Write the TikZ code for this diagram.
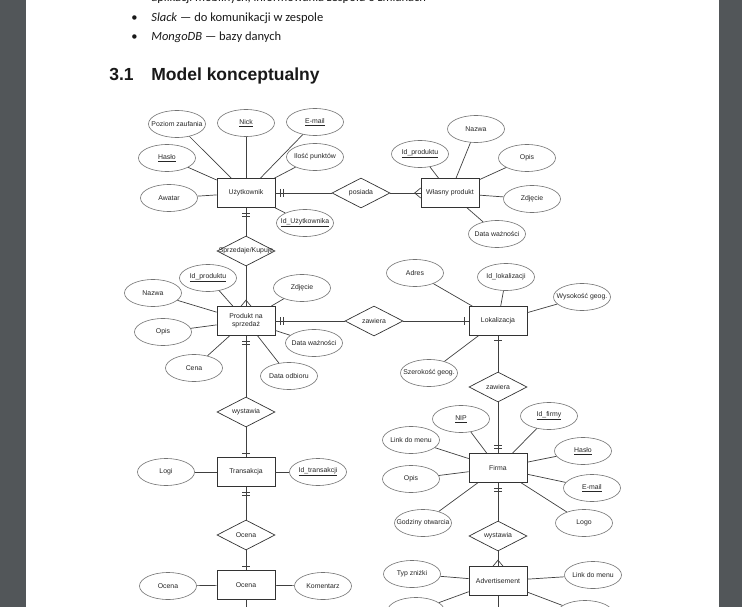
\documentclass[tikz,border=0pt]{standalone}
\usepackage{fontspec}
\setmainfont{Liberation Sans}
\newfontfamily\bodyfont{Carlito}
\usetikzlibrary{shapes.geometric}
\usetikzlibrary{calc}
\definecolor{viewer}{HTML}{525659}

\begin{document}
\begin{tikzpicture}[x=1pt,y=-1pt,line width=0.7pt,
	every node/.style={font=\fontsize{6.9}{8}\selectfont,text=black!85},
	entity/.style={rectangle,draw=black!80,minimum width=58pt,minimum height=29pt,inner sep=0pt,align=center},
	attr/.style={ellipse,draw=black!55,line width=0.6pt,minimum width=57pt,minimum height=27pt,inner xsep=-9pt,inner ysep=0pt},
	rel/.style={diamond,draw=black!80,minimum width=58pt,minimum height=30pt,inner sep=0pt,aspect=2},
	link/.style={draw=black!75},
	body/.style={anchor=base west,inner sep=0pt,text=black!90,font=\bodyfont\fontsize{12.5}{15}\selectfont}]

	\useasboundingbox (0,0) rectangle (742,607);
	\fill[viewer] (0,0) rectangle (742,607);
	\fill[white] (26,0) rectangle (719,607);

	% text above the diagram
	\node[body] (l1) at (151,1.5) {aplikacji mobilnych, informowania zespołu o zmianach};
	\node[body] (d2) at (131,21.5) {•};
	\node[body] (l2) at (151,21.5) {\textit{Slack} — do komunikacji w zespole};
	\node[body] (d3) at (131,41) {•};
	\node[body] (l3) at (151,41) {\textit{MongoDB} — bazy danych};
	\node[body,font=\fontsize{17.5}{20}\selectfont\bfseries] (nr) at (109,81) {3.1};
	\node[body,font=\fontsize{17.5}{20}\selectfont\bfseries] (tytul) at (151,81) {Model konceptualny};

	% Uzytkownik
	\node[entity] (uzyt) at (246,193) {Użytkownik};
	\node[attr] (uzPoz) at (177,124) {Poziom zaufania};
	\node[attr] (uzNick) at (246,123) {\underline{Nick}};
	\node[attr] (uzMail) at (315,122) {\underline{E-mail}};
	\node[attr] (uzHaslo) at (167,158) {\underline{Hasło}};
	\node[attr] (uzPkt) at (315,157) {Ilość punktów};
	\node[attr] (uzAwatar) at (169,198) {Awatar};
	\node[attr] (uzId) at (305,223) {\underline{Id\_Użytkownika}};
	\foreach \a in {uzPoz,uzNick,uzMail,uzHaslo,uzPkt,uzAwatar,uzId}
		\draw[link] (uzyt) -- (\a);

	% Wlasny produkt
	\node[rel] (posiada) at (361,193) {posiada};
	\node[entity] (wlasny) at (450,193) {Własny produkt};
	\node[attr] (wpId) at (420,154) {\underline{Id\_produktu}};
	\node[attr] (wpNazwa) at (476,129) {Nazwa};
	\node[attr] (wpOpis) at (527,158) {Opis};
	\node[attr] (wpZdj) at (532,199) {Zdjęcie};
	\node[attr] (wpData) at (497,234) {Data ważności};
	\foreach \a in {wpId,wpNazwa,wpOpis,wpZdj,wpData}
		\draw[link] (wlasny) -- (\a);
	\draw[link] (uzyt) -- (posiada);
	\draw[link] (posiada) -- (wlasny);

	% Produkt na sprzedaz
	\node[rel] (sprzed) at (246,251) {\makebox[0pt]{Sprzedaje/Kupuje}};
	\node[entity] (prod) at (246,321) {Produkt na\\sprzedaż};
	\node[attr] (pId) at (208,278) {\underline{Id\_produktu}};
	\node[attr] (pZdj) at (302,288) {Zdjęcie};
	\node[attr] (pNazwa) at (153,293) {Nazwa};
	\node[attr] (pOpis) at (163,332) {Opis};
	\node[attr] (pData) at (314,343) {Data ważności};
	\node[attr] (pCena) at (194,368) {Cena};
	\node[attr] (pOdb) at (289,376) {Data odbioru};
	\foreach \a in {pId,pZdj,pNazwa,pOpis,pData,pCena,pOdb}
		\draw[link] (prod) -- (\a);
	\draw[link] (uzyt) -- (sprzed);
	\draw[link] (sprzed) -- (prod);

	% Lokalizacja
	\node[rel] (zawL) at (374,321) {zawiera};
	\node[entity] (lok) at (498,321) {Lokalizacja};
	\node[attr] (lAdres) at (415,273) {Adres};
	\node[attr] (lId) at (506,277) {Id\_lokalizacji};
	\node[attr] (lWys) at (582,297) {Wysokość geog.};
	\node[attr] (lSzer) at (429,373) {Szerokość geog.};
	\foreach \a in {lAdres,lId,lWys,lSzer}
		\draw[link] (lok) -- (\a);
	\draw[link] (prod) -- (zawL);
	\draw[link] (zawL) -- (lok);

	% Firma
	\node[rel] (zawV) at (498,387) {zawiera};
	\node[entity] (firma) at (498,468) {Firma};
	\node[attr] (fNip) at (461,419) {\underline{NIP}};
	\node[attr] (fId) at (549,416) {\underline{Id\_firmy}};
	\node[attr] (fLink) at (411,440) {Link do menu};
	\node[attr] (fHaslo) at (583,451) {\underline{Hasło}};
	\node[attr] (fOpis) at (411,479) {Opis};
	\node[attr] (fMail) at (592,488) {\underline{E-mail}};
	\node[attr] (fGodz) at (423,523) {Godziny otwarcia};
	\node[attr] (fLogo) at (584,523) {Logo};
	\foreach \a in {fNip,fId,fLink,fHaslo,fOpis,fMail,fGodz,fLogo}
		\draw[link] (firma) -- (\a);
	\draw[link] (lok) -- (zawV);
	\draw[link] (zawV) -- (firma);

	% Advertisement
	\node[rel] (wystF) at (498,536) {wystawia};
	\node[entity] (adv) at (498,581) {Advertisement};
	\node[attr] (aTyp) at (412,574) {Typ zniżki};
	\node[attr] (aLink) at (593,575) {Link do menu};
	\node[attr] (aDolL) at (416,611) {};
	\node[attr] (aDolP) at (585,614) {};
	\coordinate (advKoniec) at (498,610);
	\foreach \a in {aTyp,aLink,aDolL,aDolP}
		\draw[link] (adv) -- (\a);
	\draw[link] (adv) -- (advKoniec);
	\draw[link] (firma) -- (wystF);
	\draw[link] (wystF) -- (adv);

	% Transakcja
	\node[rel] (wystP) at (246,412) {wystawia};
	\node[entity] (trans) at (246,472) {Transakcja};
	\node[attr] (tLogi) at (166,472) {Logi};
	\node[attr] (tId) at (318,472) {\underline{Id\_transakcji}};
	\draw[link] (trans) -- (tLogi);
	\draw[link] (trans) -- (tId);
	\draw[link] (prod) -- (wystP);
	\draw[link] (wystP) -- (trans);

	% Ocena
	\node[rel] (ocenaR) at (246,535) {Ocena};
	\node[entity] (ocena) at (246,585) {Ocena};
	\node[attr] (oOcena) at (168,586) {Ocena};
	\node[attr] (oKom) at (323,586) {Komentarz};
	\coordinate (ocenaKoniec) at (246,610);
	\draw[link] (ocena) -- (oOcena);
	\draw[link] (ocena) -- (oKom);
	\draw[link] (ocena) -- (ocenaKoniec);
	\draw[link] (trans) -- (ocenaR);
	\draw[link] (ocenaR) -- (ocena);

	% jeden (bary) i wiele (kurza stopka)
	\draw[link] ($(uzyt.east)+(5,-4)$) -- ++(0,8) ($(uzyt.east)+(8,-4)$) -- ++(0,8);
	\draw[link] ($(uzyt.south)+(-4,5)$) -- ++(8,0) ($(uzyt.south)+(-4,8)$) -- ++(8,0);
	\draw[link] ($(prod.east)+(5,-4)$) -- ++(0,8) ($(prod.east)+(8,-4)$) -- ++(0,8);
	\draw[link] ($(prod.south)+(-4,5)$) -- ++(8,0) ($(prod.south)+(-4,8)$) -- ++(8,0);
	\draw[link] ($(lok.west)+(-4,-4)$) -- ++(0,8);
	\draw[link] ($(lok.south)+(-4,4)$) -- ++(8,0);
	\draw[link] ($(firma.north)+(-4,-5)$) -- ++(8,0) ($(firma.north)+(-4,-8)$) -- ++(8,0);
	\draw[link] ($(firma.south)+(-4,5)$) -- ++(8,0) ($(firma.south)+(-4,8)$) -- ++(8,0);
	\draw[link] ($(trans.north)+(-4,-4)$) -- ++(8,0);
	\draw[link] ($(trans.south)+(-4,5)$) -- ++(8,0) ($(trans.south)+(-4,8)$) -- ++(8,0);
	\draw[link] ($(ocena.north)+(-4,-4)$) -- ++(8,0);
	\draw[link] ($(wlasny.west)+(0,-5)$) -- ($(wlasny.west)+(-6,0)$) -- ($(wlasny.west)+(0,5)$);
	\draw[link] ($(prod.north)+(-5,0)$) -- ($(prod.north)+(0,-6)$) -- ($(prod.north)+(5,0)$);
	\draw[link] ($(adv.north)+(-5,0)$) -- ($(adv.north)+(0,-6)$) -- ($(adv.north)+(5,0)$);
\end{tikzpicture}
\end{document}
